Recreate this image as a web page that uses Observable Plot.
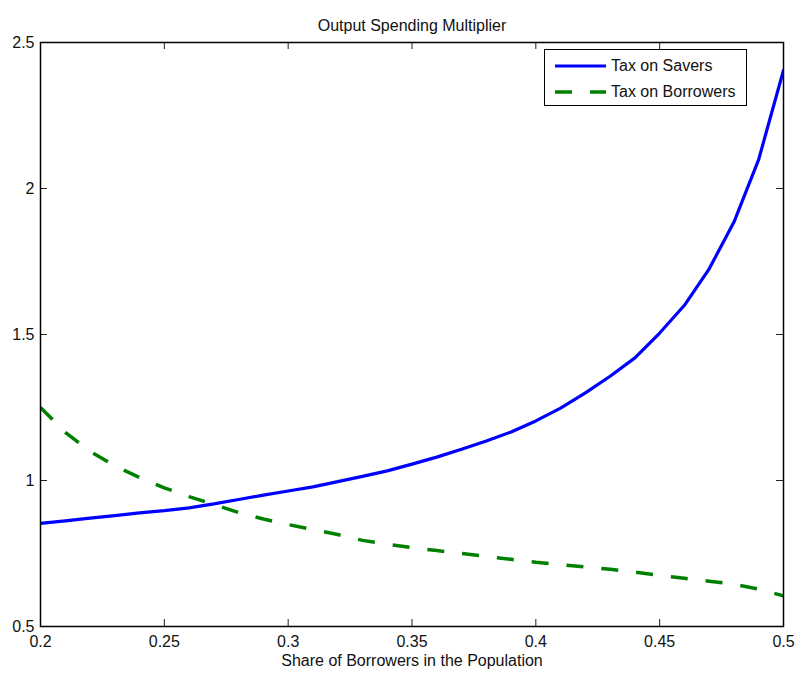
<!DOCTYPE html>
<html>
<head>
<meta charset="utf-8">
<script src="https://cdn.jsdelivr.net/npm/d3@7"></script>
<script src="https://cdn.jsdelivr.net/npm/@observablehq/plot@0.6"></script>
<style>
  html, body { margin: 0; padding: 0; background: #fff; }
  #wrap { position: relative; width: 800px; height: 679px; font-family: "Liberation Sans", Arial, sans-serif; }
  #legend { position: absolute; left: 544px; top: 49px; width: 201px; height: 55px; border: 1.5px solid #000; background: #fff; }
  #legend .row { position: absolute; left: 0; height: 20px; display: flex; align-items: center; font-size: 16px; color: #111; }
  #legend svg { margin-left: 10px; margin-right: 5px; }
</style>
</head>
<body>
<div id="wrap"></div>
<script>
const share = [0.20,0.21,0.22,0.23,0.24,0.25,0.26,0.27,0.28,0.29,0.30,0.31,0.32,0.33,0.34,0.35,0.36,0.37,0.38,0.39,0.40,0.41,0.42,0.43,0.44,0.45,0.46,0.47,0.48,0.49,0.50];
const taxOnSavers = [0.853,0.862,0.871,0.880,0.889,0.897,0.906,0.920,0.935,0.950,0.964,0.978,0.996,1.014,1.033,1.056,1.080,1.107,1.135,1.166,1.204,1.248,1.300,1.357,1.420,1.505,1.600,1.725,1.885,2.100,2.405];
const taxOnBorrowers = [1.250,1.165,1.100,1.050,1.010,0.975,0.945,0.918,0.890,0.868,0.849,0.832,0.815,0.795,0.782,0.770,0.760,0.750,0.740,0.730,0.720,0.712,0.704,0.696,0.686,0.675,0.665,0.655,0.645,0.628,0.605];
const seriesNames = ["Tax on Savers", "Tax on Borrowers"];
const xTicks = [0.2,0.25,0.3,0.35,0.4,0.45,0.5];
const yTicks = [0.5,1,1.5,2,2.5];
const titleText = "Output Spending Multiplier";
const xLabel = "Share of Borrowers in the Population";

const savers = share.map((s, i) => ({x: s, y: taxOnSavers[i]}));
const borrowers = share.map((s, i) => ({x: s, y: taxOnBorrowers[i]}));

const W = 800, H = 679;
const mT = 42, mB = 53, mL = 40, mR = 17;
const innerH = H - mT - mB, innerW = W - mL - mR;
const tickLen = 7;

const chart = Plot.plot({
  width: W,
  height: H,
  marginTop: mT,
  marginBottom: mB,
  marginLeft: mL,
  marginRight: mR,
  style: {fontFamily: '"Liberation Sans", Arial, sans-serif', fontSize: "16px", color: "#111", background: "#fff"},
  x: {domain: [0.2, 0.5]},
  y: {domain: [0.5, 2.5]},
  marks: [
    Plot.line(borrowers, {x: "x", y: "y", stroke: "#008000", strokeWidth: 3.5, strokeDasharray: "17,18", strokeLinecap: "butt", strokeLinejoin: "miter", clip: true}),
    Plot.line(savers, {x: "x", y: "y", stroke: "#0000ff", strokeWidth: 3.2, strokeLinejoin: "miter", clip: true}),
    Plot.tickX(xTicks, {x: d => d, insetTop: innerH - tickLen, stroke: "#222", strokeWidth: 1}),
    Plot.tickX(xTicks, {x: d => d, insetBottom: innerH - tickLen, stroke: "#222", strokeWidth: 1}),
    Plot.tickY(yTicks, {y: d => d, insetRight: innerW - tickLen, stroke: "#222", strokeWidth: 1}),
    Plot.tickY(yTicks, {y: d => d, insetLeft: innerW - tickLen, stroke: "#222", strokeWidth: 1}),
    Plot.axisX(xTicks, {tickSize: 0, tickPadding: 9, tickFormat: d => String(d), label: null, fontSize: 16}),
    Plot.axisY(yTicks, {tickSize: 0, tickPadding: 6, tickFormat: d => String(d), label: null, fontSize: 16}),
    Plot.frame({stroke: "#000", strokeWidth: 1.5}),
    Plot.text([titleText], {frameAnchor: "top", dy: -23, fontSize: 16, fill: "#111"}),
    Plot.text([xLabel], {frameAnchor: "bottom", dy: 39, fontSize: 16, fill: "#111"})
  ]
});

const wrap = document.getElementById("wrap");
wrap.appendChild(chart);

// legend
const legend = document.createElement("div");
legend.id = "legend";
const styles = [
  {stroke: "#0000ff", width: 3.2, dash: null},
  {stroke: "#008000", width: 3.5, dash: "17,18"}
];
seriesNames.forEach((name, i) => {
  const row = document.createElement("div");
  row.className = "row";
  row.style.top = (i === 0 ? 6 : 32) + "px";
  const s = styles[i];
  row.innerHTML = `<svg width="51" height="20"><line x1="0" x2="51" y1="10" y2="10" stroke="${s.stroke}" stroke-width="${s.width}" ${s.dash ? `stroke-dasharray="${s.dash}"` : ""}/></svg><span>${name}</span>`;
  legend.appendChild(row);
});
wrap.appendChild(legend);
</script>
</body>
</html>
